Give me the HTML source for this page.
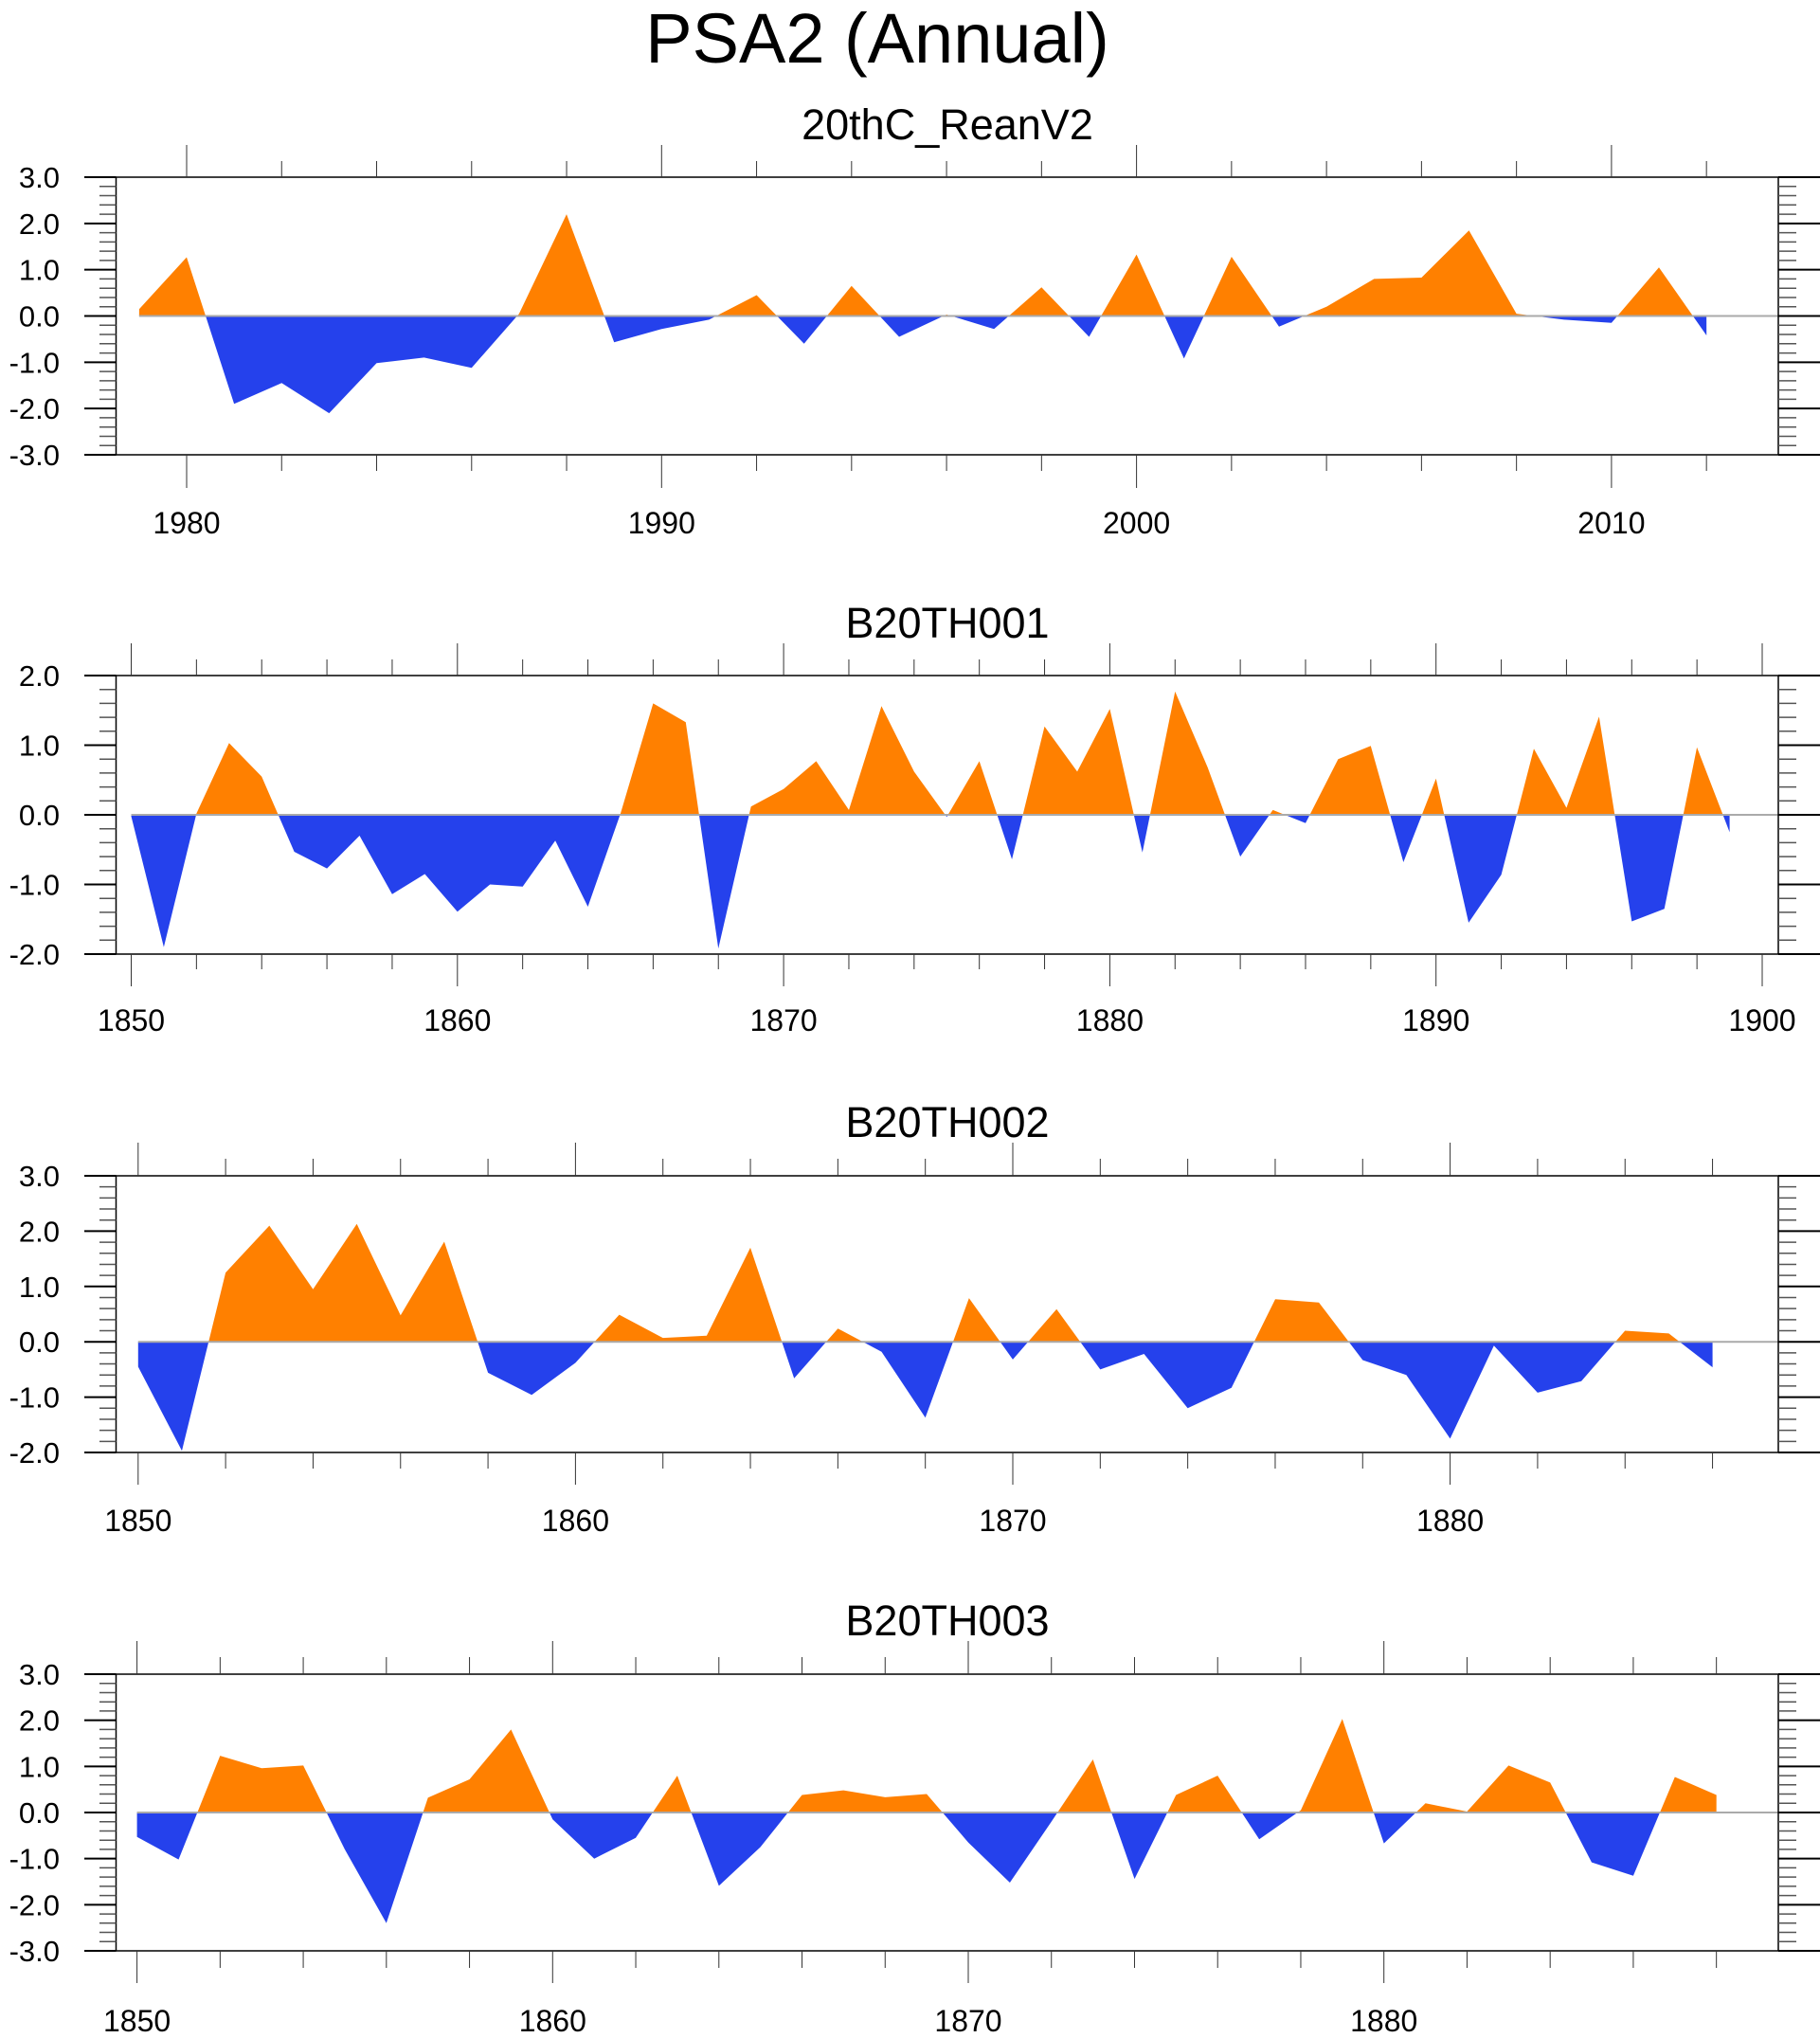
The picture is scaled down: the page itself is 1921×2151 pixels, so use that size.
<!DOCTYPE html>
<html><head><meta charset="utf-8"><style>
html,body{margin:0;padding:0;background:#fff;}
svg{display:block;}
text{font-family:"Liberation Sans",sans-serif;fill:#000;}
</style></head><body>
<svg id="chart" width="1921" height="2151" viewBox="0 0 1921 2151" xmlns="http://www.w3.org/2000/svg">
<text x="926" y="66" font-size="74" text-anchor="middle">PSA2 (Annual)</text>
</svg>
<script>
const years1 = [1979,1980,1981,1982,1983,1984,1985,1986,1987,1988,1989,1990,1991,1992,1993,1994,1995,1996,1997,1998,1999,2000,2001,2002,2003,2004,2005,2006,2007,2008,2009,2010,2011,2012];
const values1 = [0.15,1.27,-1.9,-1.45,-2.1,-1.02,-0.9,-1.12,0.05,2.2,-0.57,-0.28,-0.08,0.45,-0.6,0.65,-0.45,0.03,-0.28,0.62,-0.45,1.33,-0.92,1.28,-0.23,0.2,0.8,0.83,1.85,0.05,-0.08,-0.15,1.05,-0.42];
const values2 = [-0.02,-1.9,0.02,1.03,0.55,-0.53,-0.77,-0.3,-1.14,-0.85,-1.39,-1.0,-1.03,-0.37,-1.32,0.02,1.6,1.33,-1.92,0.12,0.37,0.77,0.07,1.56,0.62,-0.03,0.77,-0.64,1.27,0.62,1.52,-0.54,1.77,0.68,-0.6,0.07,-0.12,0.8,0.99,-0.68,0.52,-1.55,-0.86,0.95,0.1,1.41,-1.53,-1.35,0.97,-0.25];
const values3 = [-0.45,-1.97,1.25,2.1,0.95,2.13,0.48,1.81,-0.56,-0.96,-0.38,0.49,0.07,0.11,1.7,-0.66,0.24,-0.18,-1.37,0.79,-0.32,0.59,-0.5,-0.22,-1.2,-0.83,0.77,0.71,-0.33,-0.6,-1.75,-0.07,-0.92,-0.71,0.2,0.15,-0.46];
const values4 = [-0.53,-1.02,1.23,0.96,1.02,-0.8,-2.4,0.32,0.72,1.8,-0.15,-1.0,-0.55,0.8,-1.59,-0.75,0.38,0.48,0.33,0.4,-0.65,-1.52,-0.2,1.15,-1.44,0.38,0.8,-0.58,0.05,2.03,-0.67,0.2,0.02,1.02,0.65,-1.08,-1.37,0.77,0.38];
const titles = ["20thC_ReanV2","B20TH001","B20TH002","B20TH003"];
const yMins = [-3,-2,-2,-3];
const yMaxs = [3,2,3,3];
const xTickLabels1 = [1980,1990,2000,2010];
const xTickLabels2 = [1850,1860,1870,1880,1890,1900];
const xTickLabels3 = [1850,1860,1870,1880];
const xTickLabels4 = [1850,1860,1870,1880];

const NS="http://www.w3.org/2000/svg";
const svg=document.getElementById('chart');
function mk(tag,attrs,parent){const e=document.createElementNS(NS,tag);for(const k in attrs)e.setAttribute(k,attrs[k]);(parent||svg).appendChild(e);return e;}

const panels=[
 {years:years1,vals:values1,ticks:xTickLabels1,top:187,bot:480,x0:197,ppy:50.13,ref:1980,xmin:1978,xmax:2014,majTop:153,minTop:170,majBot:515,minBot:497,lab:563},
 {years:values2.map((v,i)=>1850+i),vals:values2,ticks:xTickLabels2,top:713,bot:1007,x0:138.5,ppy:34.43,ref:1850,xmin:1850,xmax:1900,majTop:679,minTop:696,majBot:1041,minBot:1023,lab:1088},
 {years:values3.map((v,i)=>1850+i),vals:values3,ticks:xTickLabels3,top:1241,bot:1533,x0:145.8,ppy:46.16,ref:1850,xmin:1850,xmax:1886,majTop:1206,minTop:1223,majBot:1567,minBot:1550,lab:1616},
 {years:values4.map((v,i)=>1850+i),vals:values4,ticks:xTickLabels4,top:1767,bot:2059,x0:144.6,ppy:43.87,ref:1850,xmin:1850,xmax:1888,majTop:1732,minTop:1749,majBot:2093,minBot:2077,lab:2144}
];
const L=122.5,R=1877;
panels.forEach((p,pi)=>{
  const g=mk('g',{});
  
  
  const ymin=yMins[pi],ymax=yMaxs[pi];
  const yS=v=>p.bot-(v-ymin)/(ymax-ymin)*(p.bot-p.top);
  const xS=yr=>p.x0+(yr-p.ref)*p.ppy;
  const t=mk('text',{x:1000,y:p.majTop-6,'font-size':45,'text-anchor':'middle'},g);
  t.textContent=titles[pi];
  
  
  const y0=yS(0);
  let d='M'+xS(p.years[0])+','+y0;
  p.years.forEach((yr,i)=>{d+=' L'+xS(yr).toFixed(1)+','+yS(p.vals[i]).toFixed(1);});
  d+=' L'+xS(p.years[p.years.length-1])+','+y0+' Z';
  const cu='cu'+pi, cd='cd'+pi;
  const c1=mk('clipPath',{id:cu},g); mk('rect',{x:0,y:p.top,width:1921,height:y0-p.top},c1);
  const c2=mk('clipPath',{id:cd},g); mk('rect',{x:0,y:y0,width:1921,height:p.bot-y0},c2);
  const pos=mk('path',{d:d,fill:'#ff8000','clip-path':'url(#'+cu+')'},g);
  
  
  const neg=mk('path',{d:d,fill:'#2541ec','clip-path':'url(#'+cd+')'},g);
  
  
  const zl=mk('line',{x1:xS(p.years[0]),x2:R,y1:y0,y2:y0,stroke:'#aaa','stroke-width':2},g);
  
  
  const fr=mk('rect',{x:L,y:p.top,width:R-L,height:p.bot-p.top,fill:'none',stroke:'#000','stroke-width':1.5},g);
  
  
  for(let k=Math.round(ymin*5);k<=Math.round(ymax*5);k++){
    const v=k/5, y=yS(v);
    if(k%5===0){
      mk('line',{x1:89,x2:L,y1:y,y2:y,stroke:'#000','stroke-width':2},g);
      mk('line',{x1:R,x2:1921,y1:y,y2:y,stroke:'#000','stroke-width':2},g);
      const lb=mk('text',{x:63,y:y+11,'font-size':31,'text-anchor':'end'},g);
      lb.textContent=v.toFixed(1);
      
      
    } else {
      mk('line',{x1:105,x2:L,y1:y,y2:y,stroke:'#555','stroke-width':1.5},g);
      mk('line',{x1:R,x2:1896,y1:y,y2:y,stroke:'#555','stroke-width':1.5},g);
    }
  }
  for(let yr=Math.ceil(p.xmin/2)*2; yr<=p.xmax; yr+=2){
    const x=xS(yr); if(x<L-1||x>R+1) continue;
    const major=yr%10===0;
    mk('line',{x1:x,x2:x,y1:major?p.majTop:p.minTop,y2:p.top,stroke:'#333','stroke-width':1},g);
    mk('line',{x1:x,x2:x,y1:p.bot,y2:major?p.majBot:p.minBot,stroke:'#333','stroke-width':1},g);
  }
  p.ticks.forEach(yr=>{
    const lb=mk('text',{x:xS(yr),y:p.lab,'font-size':32,'text-anchor':'middle'},g);
    lb.textContent=yr;
    
    
  });
});
</script>
</body></html>
